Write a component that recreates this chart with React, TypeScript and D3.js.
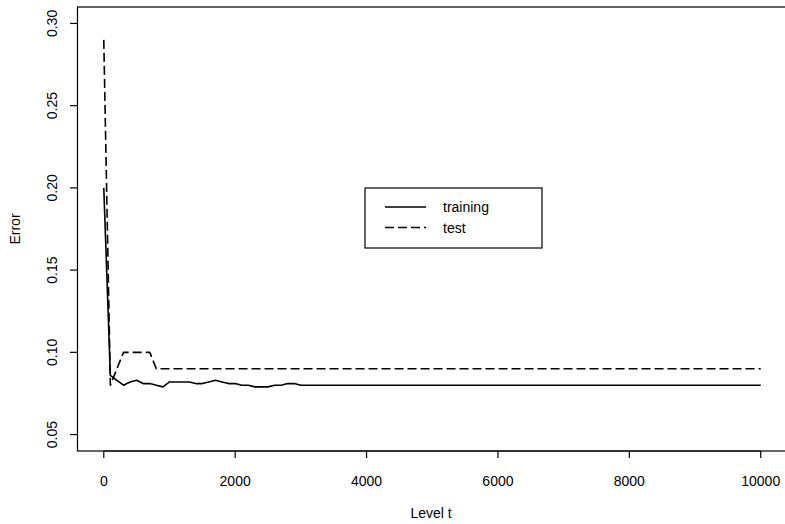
import React from 'react';
import * as d3 from 'd3';

// level t at which the errors were recorded
const levels = [0, 100, 200, 300, 400, 500, 600, 700, 800, 900, 1000, 1100, 1200, 1300, 1400, 1500,
  1600, 1700, 1800, 1900, 2000, 2100, 2200, 2300, 2400, 2500, 2600, 2700, 2800, 2900, 3000, 10000];
const trainingError = [0.200, 0.086, 0.083, 0.080, 0.082, 0.083, 0.081, 0.081, 0.080, 0.079, 0.082,
  0.082, 0.082, 0.082, 0.081, 0.081, 0.082, 0.083, 0.082, 0.081, 0.081, 0.080, 0.080, 0.079, 0.079,
  0.079, 0.080, 0.080, 0.081, 0.081, 0.080, 0.080];
const testError = [0.290, 0.080, 0.090, 0.100, 0.100, 0.100, 0.100, 0.100, 0.090, 0.090, 0.090,
  0.090, 0.090, 0.090, 0.090, 0.090, 0.090, 0.090, 0.090, 0.090, 0.090, 0.090, 0.090, 0.090, 0.090,
  0.090, 0.090, 0.090, 0.090, 0.090, 0.090, 0.090];

const xTicks = [0, 2000, 4000, 6000, 8000, 10000];
const yTicks = [0.05, 0.10, 0.15, 0.20, 0.25, 0.30];
const seriesNames = ['training', 'test'];

const W = 785, H = 524;
const font = '"Liberation Sans", Arial, sans-serif';

const App = () => {
  const x = d3.scaleLinear().domain([-400, 10400]).range([77.5, 787]);
  const y = d3.scaleLinear().domain([0.04, 0.31]).range([451, 7]);

  const line = (vals: number[]) =>
    d3.line<number>()
      .x((d, i) => x(levels[i]))
      .y(d => y(d))(vals) as string;

  const dashes = ['', '9,4'];
  const series = [trainingError, testError];

  return (
    <svg width={W} height={H} style={{ position: 'absolute', left: 0, top: 0, background: '#fff' }}
      fontFamily={font}>
      {/* plot box */}
      <rect x={x(-400)} y={y(0.31)} width={x(10400) - x(-400)} height={y(0.04) - y(0.31)}
        fill="none" stroke="#000" strokeWidth={1.2} />

      {/* x axis */}
      <g>
        <line x1={x(0)} x2={x(10000)} y1={451} y2={451} stroke="#000" strokeWidth={1.2} />
        {xTicks.map(t => (
          <g key={t}>
            <line x1={x(t)} x2={x(t)} y1={451} y2={458} stroke="#000" strokeWidth={1.2} />
            <text x={x(t)} y={486} fontSize={14} textAnchor="middle">{t}</text>
          </g>
        ))}
        <text x={431} y={518} fontSize={14} textAnchor="middle">Level t</text>
      </g>

      {/* y axis */}
      <g>
        {yTicks.map(t => (
          <g key={t}>
            <line x1={70} x2={77.5} y1={y(t)} y2={y(t)} stroke="#000" strokeWidth={1.2} />
            <text transform={`translate(57,${y(t)}) rotate(-90)`} fontSize={14} textAnchor="middle">
              {d3.format('.2f')(t)}
            </text>
          </g>
        ))}
        <text transform={`translate(20,${(y(0.04) + y(0.31)) / 2}) rotate(-90)`} fontSize={14}
          textAnchor="middle">Error</text>
      </g>

      {/* lines */}
      {series.map((s, i) => (
        <path key={i} d={line(s)} fill="none" stroke="#000" strokeWidth={1.6}
          strokeDasharray={dashes[i] || undefined} strokeLinejoin="round" />
      ))}

      {/* legend */}
      <g>
        <rect x={365} y={188} width={177} height={60} fill="#fff" stroke="#000" strokeWidth={1.2} />
        {seriesNames.map((n, i) => (
          <g key={n}>
            <line x1={385} x2={426} y1={207 + i * 20.5} y2={207 + i * 20.5} stroke="#000"
              strokeWidth={1.6} strokeDasharray={dashes[i] || undefined} />
            <text x={443} y={212 + i * 20.5} fontSize={14}>{n}</text>
          </g>
        ))}
      </g>
    </svg>
  );
};

export default App;
